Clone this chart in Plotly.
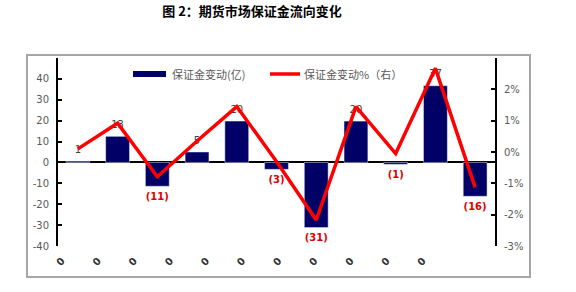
import plotly.graph_objects as go

# ---- data ----
categories = list(range(11))
tick_labels = ["0"] * 11
margin_change = [0.6, 12.5, -11.4, 5.0, 19.8, -3.3, -31.2, 19.8, -0.9, 36.7, -16.2]   # 亿
margin_change_pct = [0.1, 0.92, -0.79, 0.35, 1.45, -0.3, -2.17, 1.45, -0.05, 2.67, -1.13]  # %
left_ticks = [-40, -30, -20, -10, 0, 10, 20, 30, 40, 50]
right_ticks = [-3, -2, -1, 0, 1, 2, 3]

bar_name = "保证金变动(亿)"
line_name = "保证金变动%（右）"
title_text = "图 2：期货市场保证金流向变化"

# labels derived from values
def fmt(v):
    n = int(abs(v) + 0.5)
    return f"<b>({n})</b>" if v < 0 else f"{n}"

bar_text = [fmt(v) for v in margin_change]
bar_text_colors = ["#E00000" if v < 0 else "#404040" for v in margin_change]
label_pad = 2.8  # axis units between bar end and its label
label_y = [v + (label_pad if v >= 0 else -label_pad) for v in margin_change]
label_pos = ["top center" if v >= 0 else "bottom center" for v in margin_change]

W, H = 576, 292
L, R, T, B = 58, 81, 58, 46
pw, ph = W - L - R, H - T - B

def px_x(x):
    return (x - L) / pw

def px_y(y):
    return (H - B - y) / ph

fig = go.Figure()
fig.add_trace(go.Bar(
    x=categories, y=margin_change, name=bar_name,
    marker_color="#000066", width=0.6, showlegend=False,
))
fig.add_trace(go.Scatter(
    x=categories, y=label_y, mode="text", text=bar_text, textposition=label_pos,
    textfont=dict(color=bar_text_colors, size=10, family="DejaVu Sans"),
    showlegend=False, cliponaxis=False, hoverinfo="skip",
))
fig.add_trace(go.Scatter(
    x=categories, y=margin_change_pct, name=line_name, yaxis="y2",
    mode="lines", line=dict(color="#FF0000", width=3.5), showlegend=False,
))

# tick label positions (glyph row is spaced slightly tighter than the bars)
step = 36.1 / (pw / 11)
tick_pos = [-0.4 + step * i for i in range(len(tick_labels))]

left_text = [str(v) if v != left_ticks[-1] else " " for v in left_ticks]
right_text = [f"{v}%" if v != right_ticks[-1] else " " for v in right_ticks]

legend_font = dict(family="Noto Sans CJK SC", size=11, color="#595959")
ly = px_y(74)

fig.update_layout(
    width=W, height=H,
    margin=dict(l=L, r=R, t=T, b=B),
    paper_bgcolor="white", plot_bgcolor="white",
    font=dict(family="DejaVu Sans, Noto Sans CJK SC", size=10, color="#595959"),
    title=dict(text="<b>" + title_text + "</b>", x=252 / W, xanchor="center",
               y=1 - 11 / H, yanchor="middle",
               font=dict(family="Noto Sans CJK SC", size=13, color="#000000")),
    showlegend=False,
    xaxis=dict(range=[-0.5, 10.5], showline=False, showgrid=False, zeroline=False,
               tickmode="array", tickvals=tick_pos,
               ticktext=["<b>" + t + "</b>" for t in tick_labels], tickangle=-45,
               ticks="", tickfont=dict(size=10, color="#333333", family="DejaVu Sans"),
               ticklabelstandoff=6),
    yaxis=dict(range=[-40, 50], tickmode="array", tickvals=left_ticks, ticktext=left_text,
               showgrid=False, showline=True, linecolor="#000000",
               linewidth=2, ticks="inside", ticklen=4, tickwidth=2, tickcolor="#000000",
               zeroline=True, zerolinecolor="#000000", zerolinewidth=2,
               tickfont=dict(size=10, color="#595959"), ticklabelstandoff=5),
    yaxis2=dict(range=[-3, 3], tickmode="array", tickvals=right_ticks, ticktext=right_text,
                overlaying="y", side="right", showgrid=False,
                showline=True, linecolor="#000000", linewidth=2, ticks="inside", ticklen=4,
                tickwidth=2, tickcolor="#000000", zeroline=False,
                tickfont=dict(size=10, color="#595959"), ticklabelstandoff=5),
    shapes=[
        dict(type="rect", xref="paper", yref="paper", layer="above",
             x0=px_x(27), x1=px_x(530), y0=px_y(277), y1=px_y(55),
             line=dict(color="#A6A6A6", width=2)),
        # legend swatches
        dict(type="rect", xref="paper", yref="paper",
             x0=px_x(133), x1=px_x(166), y0=px_y(77), y1=px_y(71),
             fillcolor="#000066", line=dict(width=0)),
        dict(type="line", xref="paper", yref="paper",
             x0=px_x(270), x1=px_x(300), y0=ly, y1=ly,
             line=dict(color="#FF0000", width=3.5)),
    ],
    annotations=[
        dict(text=bar_name, xref="paper", yref="paper", x=px_x(170), y=ly,
             xanchor="left", yanchor="middle", showarrow=False, font=legend_font),
        dict(text=line_name, xref="paper", yref="paper", x=px_x(302), y=ly,
             xanchor="left", yanchor="middle", showarrow=False, font=legend_font),
    ],
)

fig.write_html("out.html")
